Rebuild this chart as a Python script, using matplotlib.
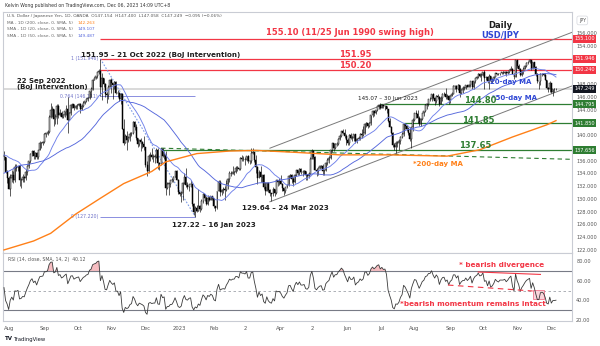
import numpy as np
import pandas as pd
import matplotlib
matplotlib.use("Agg")
import matplotlib.pyplot as plt
import matplotlib.transforms as mtransforms
from matplotlib.patches import Rectangle

# ---------------- data ----------------
first_day = "2022-07-27"
last_day = "2023-12-06"

# closes before the visible window (2022-05-19 .. 2022-07-26), only to warm up SMA / RSI
pre_close = [127.8, 127.9, 127.9, 126.8, 127.3, 127.1, 127.1, 127.6, 128.7,
             129.9, 129.9, 130.9, 131.9, 132.6, 134.2, 134.4, 134.4, 134.4, 135.5, 134.0,
             132.2, 135.0, 135.0, 136.6, 136.2, 134.9, 135.2, 135.5, 136.1, 136.6, 135.7,
             135.2, 135.7, 135.9, 135.9, 136.0, 136.1, 137.4, 136.9, 137.4, 138.9, 138.5,
             138.1, 138.2, 138.2, 137.4, 136.1, 136.7, 136.9]

close = [
    136.6, 134.2, 133.3,  # Jul 22
    131.6, 133.2, 133.8, 133.0, 135.0, 134.9, 135.1, 132.9, 133.0, 133.4, 133.3, 134.2,
    135.1, 135.9, 137.0, 137.5, 136.8, 137.2, 136.5, 137.6, 138.7, 138.8, 138.9,  # Aug
    140.2, 140.2, 140.5, 142.8, 144.0, 144.1, 142.5, 142.8, 144.6, 143.2, 143.5, 142.9,
    143.2, 143.7, 144.1, 142.4, 143.4, 144.7, 144.8, 144.2, 144.5, 144.7,  # Sep
    144.8, 144.1, 144.6, 145.1, 145.3, 145.7, 145.8, 146.9, 147.2, 148.7, 149.0, 149.2,
    149.9, 150.1, 147.6, 149.0, 148.0, 146.4, 146.3, 147.5, 148.7,  # Oct
    148.2, 147.9, 148.3, 146.6, 146.6, 145.6, 146.4, 141.0, 138.7, 139.9, 139.3, 139.5,
    140.2, 140.4, 142.1, 141.2, 139.5, 138.6, 139.2, 138.9, 138.6, 138.1,  # Nov
    135.3, 134.3, 136.7, 136.9, 136.5, 136.6, 136.6, 137.7, 135.6, 135.5, 137.8, 136.7,
    136.9, 131.7, 132.4, 132.4, 132.9, 132.9, 133.5, 134.4, 133.0, 131.1,  # Dec
    130.7, 131.0, 132.5, 133.4, 132.1, 131.9, 132.3, 132.4, 129.2, 127.9, 128.5, 128.1,
    128.9, 128.4, 129.6, 130.7, 130.2, 129.2, 130.2, 129.9, 130.4, 130.1,  # Jan 23
    128.9, 128.6, 131.2, 132.6, 131.1, 131.4, 131.5, 131.4, 132.4, 133.1, 134.1, 133.9,
    134.2, 134.2, 134.9, 134.9, 134.7, 136.4, 136.2, 136.2,  # Feb
    136.1, 136.7, 135.9, 135.9, 137.2, 137.3, 136.1, 135.0, 133.2, 134.2, 133.4, 133.7,
    131.8, 131.3, 132.5, 131.4, 130.9, 130.7, 131.5, 130.9, 132.9, 132.7, 132.8,  # Mar
    132.4, 131.7, 131.3, 131.8, 132.2, 133.6, 133.7, 133.1, 132.6, 133.8, 134.5, 134.1,
    134.7, 134.2, 134.2, 134.3, 133.7, 133.6, 133.9, 136.3,  # Apr
    137.5, 136.5, 134.6, 134.3, 134.8, 135.1, 135.2, 134.4, 134.5, 135.7, 136.1, 136.4,
    137.6, 138.7, 137.9, 138.6, 138.6, 139.4, 139.9, 140.6, 140.4, 139.8, 139.3,  # May
    138.8, 140.0, 139.6, 139.6, 140.1, 139.0, 139.4, 139.6, 140.2, 140.0, 140.3, 141.8,
    141.9, 141.5, 141.9, 143.1, 143.7, 143.5, 143.9, 144.5, 144.7, 144.3,  # Jun
    144.7, 144.5, 144.6, 144.1, 142.2, 141.3, 140.4, 138.5, 138.1, 138.8, 138.7, 139.0,
    139.7, 140.1, 141.8, 141.5, 140.9, 140.3, 139.4, 141.2, 142.3,  # Jul
    143.4, 143.3, 142.6, 141.8, 142.5, 143.4, 143.7, 144.7, 144.9, 145.6, 145.6, 146.4,
    145.8, 145.4, 146.2, 145.9, 144.8, 145.8, 146.4, 146.5, 145.9, 146.2, 145.5,  # Aug
    146.2, 146.5, 147.7, 147.7, 147.3, 147.8, 146.6, 147.1, 147.4, 147.4, 147.9, 147.6,
    147.9, 148.4, 147.6, 148.4, 148.9, 149.1, 149.6, 149.3, 149.4,  # Sep
    149.9, 149.0, 149.1, 148.5, 149.3, 148.5, 148.7, 149.1, 149.8, 149.6, 149.5, 149.8,
    149.8, 149.8, 149.9, 149.7, 149.9, 150.2, 150.4, 149.6, 149.1, 151.7,  # Oct
    150.9, 150.4, 149.4, 150.0, 150.4, 150.9, 151.3, 151.5, 151.7, 150.4, 151.4, 150.7,
    149.6, 148.4, 148.4, 149.5, 149.6, 149.4, 148.7, 147.4, 147.2, 148.2,  # Nov
    146.8, 147.2, 147.2, 147.249,  # Dec
]

high = [
    137.5, 136.6, 134.5,
    133.6, 133.9, 134.5, 134.4, 135.5, 135.5, 135.2, 135.3, 133.3, 133.9, 133.6, 134.7,
    135.3, 136.0, 137.2, 137.7, 137.6, 137.3, 137.3, 137.7, 139.0, 138.9, 139.1,
    140.3, 140.4, 140.8, 143.1, 145.0, 144.6, 144.0, 143.3, 144.9, 144.9, 144.1, 143.8,
    143.3, 143.8, 144.7, 145.9, 143.6, 144.8, 144.9, 144.9, 144.7, 144.9,
    145.0, 145.0, 144.9, 145.3, 145.4, 145.8, 146.0, 146.9, 147.6, 148.8, 149.1, 149.3,
    149.9, 150.3, 151.95, 149.7, 149.0, 148.2, 146.8, 147.9, 148.8,
    148.9, 148.1, 148.4, 148.5, 147.1, 146.7, 146.6, 146.6, 142.5, 140.2, 140.7, 139.9,
    140.5, 140.5, 142.2, 142.2, 141.8, 139.6, 139.3, 139.6, 139.0, 139.9,
    138.2, 135.9, 137.0, 137.4, 137.9, 137.0, 137.1, 138.0, 138.0, 135.8, 137.9, 138.0,
    137.5, 137.5, 132.7, 132.7, 133.0, 133.3, 133.6, 134.4, 134.5, 133.1,
    131.1, 131.3, 132.7, 134.1, 134.8, 132.6, 132.4, 132.9, 132.5, 129.3, 128.9, 129.0,
    131.6, 129.0, 130.0, 130.9, 130.7, 130.4, 130.6, 130.4, 130.5, 130.5,
    130.2, 128.9, 131.2, 132.9, 132.9, 131.6, 131.9, 132.0, 132.9, 133.3, 134.3, 134.3,
    135.1, 134.4, 135.2, 135.2, 134.9, 136.5, 136.9, 136.7,
    136.6, 136.8, 136.9, 136.1, 137.9, 137.9, 137.4, 136.9, 135.1, 134.5, 135.1, 133.8,
    133.9, 132.6, 132.6, 132.7, 131.5, 131.0, 131.8, 131.6, 132.9, 133.0, 133.2,
    133.8, 132.5, 131.7, 131.9, 132.4, 133.7, 133.9, 133.9, 133.4, 133.9, 134.6, 134.6,
    134.8, 134.9, 134.6, 134.6, 134.4, 133.9, 134.2, 136.6,
    137.8, 137.7, 136.7, 134.9, 135.0, 135.3, 135.3, 135.5, 134.6, 135.8, 136.4, 136.7,
    137.7, 138.8, 138.7, 138.8, 138.9, 139.5, 140.2, 140.7, 140.9, 140.9, 140.1,
    139.6, 140.1, 140.4, 139.8, 140.2, 140.2, 139.5, 139.8, 140.3, 140.9, 141.5, 141.9,
    142.0, 141.9, 142.0, 143.2, 143.9, 143.7, 144.0, 144.6, 144.9, 145.07,
    144.9, 144.7, 144.7, 144.6, 144.1, 142.6, 141.4, 140.5, 138.7, 139.0, 139.0, 139.4,
    139.9, 140.5, 141.9, 141.7, 141.6, 141.2, 141.3, 141.3, 142.7,
    143.5, 143.9, 143.9, 143.0, 142.6, 143.4, 143.8, 144.8, 145.0, 145.6, 145.9, 146.4,
    146.6, 146.0, 146.3, 146.4, 146.1, 146.1, 146.6, 146.8, 147.4, 146.4, 146.3,
    146.3, 146.7, 147.8, 147.9, 147.9, 148.0, 147.6, 147.2, 147.7, 147.6, 147.9, 147.9,
    148.0, 148.5, 148.4, 148.5, 148.9, 149.2, 149.7, 149.7, 149.8,
    149.9, 150.16, 149.2, 149.2, 149.5, 149.2, 148.9, 149.3, 149.8, 149.8, 149.8, 149.8,
    149.9, 150.0, 150.0, 150.0, 150.0, 150.2, 150.8, 150.5, 149.8, 151.7,
    151.7, 151.1, 150.5, 150.1, 150.6, 151.0, 151.4, 151.6, 151.9, 151.7, 151.4, 151.4,
    150.8, 149.8, 148.5, 149.7, 149.7, 149.7, 149.7, 148.7, 147.5, 148.5,
    148.2, 147.2, 147.4, 147.4,
]

low = [
    136.1, 134.0, 132.5,
    131.5, 130.4, 132.7, 132.5, 132.6, 134.4, 134.4, 132.0, 131.7, 132.7, 132.6, 133.0,
    133.8, 134.8, 135.6, 136.7, 136.2, 136.2, 136.3, 136.3, 137.6, 138.0, 138.4,
    138.8, 139.7, 140.0, 140.3, 142.7, 142.9, 141.5, 141.7, 141.7, 142.6, 143.0, 142.6,
    142.6, 142.9, 143.1, 140.3, 142.3, 143.2, 144.2, 143.9, 144.1, 144.1,
    144.6, 143.5, 143.9, 144.4, 144.8, 145.2, 145.4, 145.7, 146.0, 147.0, 148.6, 148.8,
    149.0, 149.6, 146.2, 145.5, 147.5, 145.9, 145.1, 145.7, 147.6,
    146.6, 145.7, 147.2, 146.5, 145.9, 145.3, 144.9, 140.9, 138.5, 138.9, 137.7, 138.9,
    139.0, 139.8, 140.2, 140.8, 139.2, 138.1, 138.3, 137.5, 137.9, 137.7,
    135.0, 133.6, 134.1, 136.0, 136.3, 135.8, 135.7, 136.4, 134.7, 134.6, 135.3, 136.6,
    136.3, 130.6, 131.6, 130.6, 131.8, 132.6, 132.6, 133.4, 132.9, 130.8,
    130.5, 129.5, 129.9, 132.3, 131.9, 131.6, 131.3, 131.8, 128.9, 127.5, 127.22, 127.9,
    128.2, 127.9, 128.3, 129.4, 129.7, 129.0, 129.0, 129.6, 129.9, 129.9,
    128.5, 128.1, 128.4, 131.2, 130.5, 130.6, 130.9, 129.8, 131.3, 131.6, 132.6, 133.6,
    133.9, 133.8, 134.1, 134.4, 134.5, 134.5, 136.0, 135.9,
    135.3, 135.9, 135.6, 135.4, 135.6, 137.0, 135.8, 134.1, 132.3, 133.2, 132.7, 132.7,
    131.5, 130.6, 131.2, 131.1, 130.4, 129.64, 130.5, 130.4, 130.8, 132.0, 132.2,
    132.3, 131.3, 130.6, 130.9, 131.7, 132.0, 133.2, 132.5, 132.0, 132.5, 133.6, 133.7,
    133.8, 133.9, 133.6, 133.9, 133.0, 133.0, 133.3, 133.7,
    136.2, 136.2, 134.5, 133.6, 133.8, 134.7, 134.8, 133.8, 133.7, 134.4, 135.3, 135.6,
    136.3, 137.4, 137.5, 137.8, 138.3, 138.5, 139.3, 139.7, 140.2, 139.6, 138.4,
    138.4, 138.4, 139.4, 139.0, 139.0, 138.8, 138.8, 139.2, 139.3, 139.6, 139.9, 140.2,
    141.3, 141.1, 141.3, 141.6, 142.9, 143.0, 143.3, 143.8, 144.1, 144.1,
    144.3, 144.2, 143.9, 143.5, 142.1, 141.2, 140.2, 138.2, 137.7, 137.24, 138.2, 137.7,
    138.6, 139.5, 139.9, 141.0, 140.6, 140.0, 139.0, 138.05, 140.7,
    142.2, 142.7, 141.9, 141.5, 141.5, 142.4, 143.0, 143.6, 144.1, 144.6, 145.3, 145.4,
    145.7, 144.7, 145.0, 145.7, 144.5, 144.8, 145.3, 146.2, 145.7, 145.6, 144.9,
    145.0, 146.1, 146.4, 147.3, 146.8, 147.0, 145.9, 146.5, 146.6, 147.0, 147.3, 147.6,
    147.6, 147.6, 147.3, 147.3, 148.2, 148.8, 148.9, 149.1, 148.5,
    149.3, 147.3, 148.6, 148.2, 147.3, 148.3, 148.2, 148.6, 149.1, 149.4, 149.4, 149.4,
    149.6, 149.5, 149.6, 149.3, 149.6, 149.8, 150.2, 149.5, 148.8, 149.2,
    150.5, 150.2, 149.2, 149.3, 149.6, 150.3, 150.7, 151.1, 151.3, 150.2, 150.3, 150.5,
    149.2, 148.1, 147.2, 147.9, 149.2, 149.2, 148.6, 147.2, 146.7, 146.7,
    146.6, 146.2, 146.7, 147.058,
]

# 200-day MA
ma200_dates = ["2022-07-27", "2022-08-23", "2022-09-07", "2022-09-29", "2022-10-21",
               "2022-11-11", "2022-12-07", "2022-12-20", "2023-01-17", "2023-02-15",
               "2023-03-10", "2023-04-14", "2023-05-25", "2023-07-10", "2023-08-30",
               "2023-09-28", "2023-10-27", "2023-11-28", "2023-12-06"]
ma200_vals = [122.0, 123.4, 124.6, 127.6, 130.1, 132.4, 134.3, 135.8, 137.1, 137.5,
              137.6, 137.3, 136.9, 136.9, 136.7, 137.7, 139.7, 141.6, 142.263]

red_levels = [155.10, 151.946, 150.24]
green_levels = [144.795, 141.85, 137.656]
green_starts = ["2023-06-30", "2023-07-21", "2022-12-15"]
dashed_green = [137.95, 136.2]          # start / end value of the dashed support
channel_dates = ["2023-03-24", "2023-07-28"]
channel_lows = [129.64, 138.05]
channel_width = 8.4
fib_dates = ["2022-10-21", "2023-01-16"]
fib_prices = [151.946, 127.22]

last_price = 147.249
month_labels = ["Aug", "Sep", "Oct", "Nov", "Dec", "2023", "Feb", "2", "Apr", "2",
                "Jun", "Jul", "Aug", "Sep", "Oct", "Nov", "Dec"]

# ---------------- prepare ----------------
days = pd.bdate_range(first_day, last_day)
assert len(days) == len(close) == len(high) == len(low)
c = np.array(close)
o = np.concatenate([[pre_close[-1]], c[:-1]])
h = np.maximum(np.array(high), np.maximum(o, c))
l = np.minimum(np.array(low), np.minimum(o, c))
x = np.arange(len(days))
n0 = len(pre_close)

allc = pd.Series(pre_close + close)
sma20 = allc.rolling(20).mean().values[n0:]
sma50 = allc.rolling(50).mean().values[n0:]
d = allc.diff()
ag = d.clip(lower=0).ewm(alpha=1 / 14, adjust=False).mean()
al = (-d.clip(upper=0)).ewm(alpha=1 / 14, adjust=False).mean()
rsi = (100 - 100 / (1 + ag / al)).values[n0:]


def xi(s):
    return days.get_loc(pd.Timestamp(s))


XL, XR = -0.64, 365.3

plt.rcParams["font.family"] = "DejaVu Sans"
fig = plt.figure(figsize=(6, 3.46), dpi=100)
ax = fig.add_axes([3 / 600, 1 - 253 / 346, 569 / 600, 241 / 346])
ar = fig.add_axes([3 / 600, 1 - 321 / 346, 569 / 600, 68 / 346], sharex=ax)

RED = "#f23645"
GREEN = "#2e7d32"
BLUE = "#2f47d4"
ORANGE = "#ff8018"
LAV = "#8a8ee0"
TXT = "#1e1e1e"
SP = "#c9ccd4"

# ---------------- price pane ----------------
ax.axhline(last_price, color="#cfcfcf", lw=1.1, zorder=0)

xs = xi(fib_dates[0])
ax.hlines(red_levels, xs, XR, color=RED, lw=0.9, zorder=1)
for lv, st in zip(green_levels, green_starts):
    ax.hlines(lv, xi(st), XR, color=GREEN, lw=0.9, zorder=1)
ax.plot([xi(green_starts[2]), XR], dashed_green, color=GREEN, lw=0.8,
        ls=(0, (4, 3)), zorder=1)

# channel
c0, c1 = xi(channel_dates[0]), xi(channel_dates[1])
slope = (channel_lows[1] - channel_lows[0]) / (c1 - c0)
lo_end = channel_lows[0] + slope * (XR - c0)
ax.plot([c0 - 1, XR], [channel_lows[0] - slope, lo_end], color="#7a7a7a", lw=0.7, zorder=1)
ax.plot([c0 - 1, XR], [channel_lows[0] - slope + channel_width, lo_end + channel_width],
        color="#7a7a7a", lw=0.7, zorder=1)

# fibonacci retracement
f0, f1 = xi(fib_dates[0]), xi(fib_dates[1])
fib764 = fib_prices[1] + 0.764 * (fib_prices[0] - fib_prices[1])
ax.hlines([fib764, fib_prices[1]], f0, f1, color=LAV, lw=0.7, zorder=1)
ax.plot([f0, f1], fib_prices, color="#7d9be6", lw=0.8, ls=(0, (1.5, 1.5)), zorder=1)
for val, lab in [(fib_prices[0], "1 (151.946)"), (fib764, "0.764 (%.3f)" % fib764),
                 (fib_prices[1], "0 (127.220)")]:
    ax.text(f0 - 1.5, val, lab, fontsize=3.3, color="#6d70c8", ha="right", va="center")

# candles
up = c >= o
bb = np.minimum(o, c)
bh = np.maximum(np.abs(c - o), 0.07)
ax.vlines(x, l, h, color="black", lw=0.45, zorder=3)
ax.bar(x[up], bh[up], bottom=bb[up], width=0.62, color="white", edgecolor="black",
       linewidth=0.35, zorder=4)
ax.bar(x[~up], bh[~up], bottom=bb[~up], width=0.62, color="black", edgecolor="black",
       linewidth=0.35, zorder=4)

# moving averages
ax.plot(x, sma20, color="#6f80ea", lw=0.65, zorder=5)
ax.plot(x, sma50, color="#5567dc", lw=0.65, zorder=5)
ax.plot([xi(s) for s in ma200_dates], ma200_vals, color=ORANGE, lw=1.0, zorder=5)

# annotations
kw = dict(ha="center", va="center", fontweight="bold", zorder=6)
ax.text(222.5, 156.0, "155.10 (11/25 Jun 1990 swing high)", color=RED, fontsize=6.0, **kw)
ax.text(225.7, 152.7, "151.95", color=RED, fontsize=6.0, **kw)
ax.text(225.7, 150.83, "150.20", color=RED, fontsize=6.0, **kw)
ax.text(49.5, 152.6, "151.95 – 21 Oct 2022 (BoJ intervention)", color=TXT, fontsize=5.1,
        ha="left", va="center", fontweight="bold", zorder=6)
ax.text(8.4, 147.95, "22 Sep 2022\n(BoJ intervention)", color=TXT, fontsize=5.0,
        ha="left", va="center", fontweight="bold", linespacing=1.0, zorder=6)
ax.text(227.7, 145.8, "145.07 – 30 Jun 2023", color=TXT, fontsize=4.1, ha="left",
        va="center", zorder=6)
ax.text(319, 157.25, "Daily", color=TXT, fontsize=6.0, **kw)
ax.text(319, 155.53, "USD/JPY", color=BLUE, fontsize=6.0, **kw)
ax.text(326, 148.3, "20-day MA", color=BLUE, fontsize=5.0, **kw)
ax.text(328, 145.8, "*50-day MA", color=BLUE, fontsize=5.0, **kw)
ax.text(306, 145.35, "144.80", color=GREEN, fontsize=6.0, **kw)
ax.text(304.8, 142.36, "141.85", color=GREEN, fontsize=6.0, **kw)
ax.text(302.9, 138.3, "137.65", color=GREEN, fontsize=6.0, **kw)
ax.text(279, 135.47, "*200-day MA", color=ORANGE, fontsize=5.0, **kw)
ax.text(135, 125.9, "127.22 – 16 Jan 2023", color=TXT, fontsize=5.1, **kw)
ax.text(180.7, 128.57, "129.64 – 24 Mar 2023", color=TXT, fontsize=5.1, **kw)

# legend block
lg = dict(transform=fig.transFigure, va="center", ha="left")
fig.text(5 / 600, 1 - 5 / 346,
         "Kelvin Wong published on TradingView.com, Dec 06, 2023 14:09 UTC+8",
         color="#333333", fontsize=3.3, **lg)
fig.text(7 / 600, 1 - 16 / 346,
         "U.S. Dollar / Japanese Yen, 1D, OANDA  O147.154  H147.400  L147.058  "
         "C147.249  −0.095 (−0.06%)", color="#555555", fontsize=3.1, **lg)
for yy, lab, val, col in [(23, "MA - 1D (200, close, 0, SMA, 5)", "142.263", ORANGE),
                          (29.5, "SMA - 1D (20, close, 0, SMA, 5)", "149.107", "#5567dc"),
                          (36, "SMA - 1D (50, close, 0, SMA, 5)", "149.487", "#5567dc")]:
    fig.text(7 / 600, 1 - yy / 346, lab, color="#666666", fontsize=3.05, **lg)
    fig.text(77 / 600, 1 - yy / 346, val, color=col, fontsize=3.1, **lg)

ax.set_xlim(XL, XR)
ax.set_ylim(121.52, 159.29)
ax.yaxis.tick_right()
ax.set_yticks([156, 154, 148, 146, 144, 140, 136, 134, 132, 130, 128, 126, 124, 122])
ax.set_yticklabels(["%.3f" % v for v in ax.get_yticks()])
ax.tick_params(axis="y", labelsize=3.6, colors="#555555", length=0, pad=3)
ax.tick_params(axis="x", labelbottom=False, length=0)
for s in ax.spines.values():
    s.set_color(SP)
    s.set_linewidth(0.8)

trans = mtransforms.blended_transform_factory(ax.transAxes, ax.transData)
for val, col in [(155.10, RED), (151.946, RED), (150.24, RED), (147.249, "#131722"),
                 (144.795, GREEN), (141.85, GREEN), (137.656, GREEN)]:
    ax.text(1.004, val, "%.3f" % val, transform=trans, fontsize=3.6, color="white",
            ha="left", va="center",
            bbox=dict(boxstyle="square,pad=0.3", fc=col, ec="none"))
ax.text(1.012, 0.965, "JPY", transform=ax.transAxes, fontsize=3.4, color="#555555",
        ha="left", va="center",
        bbox=dict(boxstyle="round,pad=0.4", fc="white", ec="#d5d7dd", lw=0.5))

# ---------------- RSI pane ----------------
ar.plot(x, rsi, color="#3a3a3a", lw=0.6, zorder=3)
ar.fill_between(x, rsi, 70, where=rsi > 70, interpolate=True, color="#f5a3a8",
                alpha=0.7, lw=0, zorder=2)
ar.axhline(70, color="#787b86", lw=0.8)
ar.axhline(30, color="#787b86", lw=0.8)
ar.axhline(50, color="#a0a3ab", lw=0.6, ls=(0, (3, 3)))

ar.plot([305, 345], [69, 66.5], color=RED, lw=0.8, zorder=4)
ar.plot([285.5, 340], [55.6, 49.5], color=RED, lw=0.8, ls=(0, (5, 4)), zorder=4)
ar.add_patch(Rectangle((340, 41), 7.3, 9.3, fc="#fbd0d8", ec="#f06a84", lw=0.6,
                       alpha=0.9, zorder=2))
ar.text(320, 76.2, "* bearish divergence", color=RED, fontsize=5.2, ha="center",
        va="center", fontweight="bold", zorder=6)
ar.text(301.6, 36.5, "*bearish momentum remains intact", color=RED, fontsize=5.2,
        ha="center", va="center", fontweight="bold", zorder=6)
ar.text(0.008, 0.9, "RSI (14, close, SMA, 14, 2)  40.12", transform=ar.transAxes,
        fontsize=3.3, color="#555555", ha="left", va="center")

ar.set_ylim(18.7, 88.5)
ar.yaxis.tick_right()
ar.set_yticks([80, 60, 40, 20])
ar.set_yticklabels(["80.00", "60.00", "40.00", "20.00"])
ar.tick_params(axis="y", labelsize=3.6, colors="#555555", length=0, pad=3)
month_idx = [np.where(days.to_period("M") == p)[0][0]
             for p in days.to_period("M").unique()[1:]]
ar.set_xticks(month_idx)
ar.set_xticklabels(month_labels)
ar.tick_params(axis="x", labelsize=3.8, colors="#555555", length=0, pad=3.5)
for s in ar.spines.values():
    s.set_color(SP)
    s.set_linewidth(0.8)

fig.text(5 / 600, 1 - 339 / 346, "TV", fontsize=4, fontweight="bold", color="#131722",
         va="center", ha="left")
fig.text(14 / 600, 1 - 339 / 346, "TradingView", fontsize=3.8, color="#131722",
         va="center", ha="left")

fig.savefig("out.png", dpi=100)
